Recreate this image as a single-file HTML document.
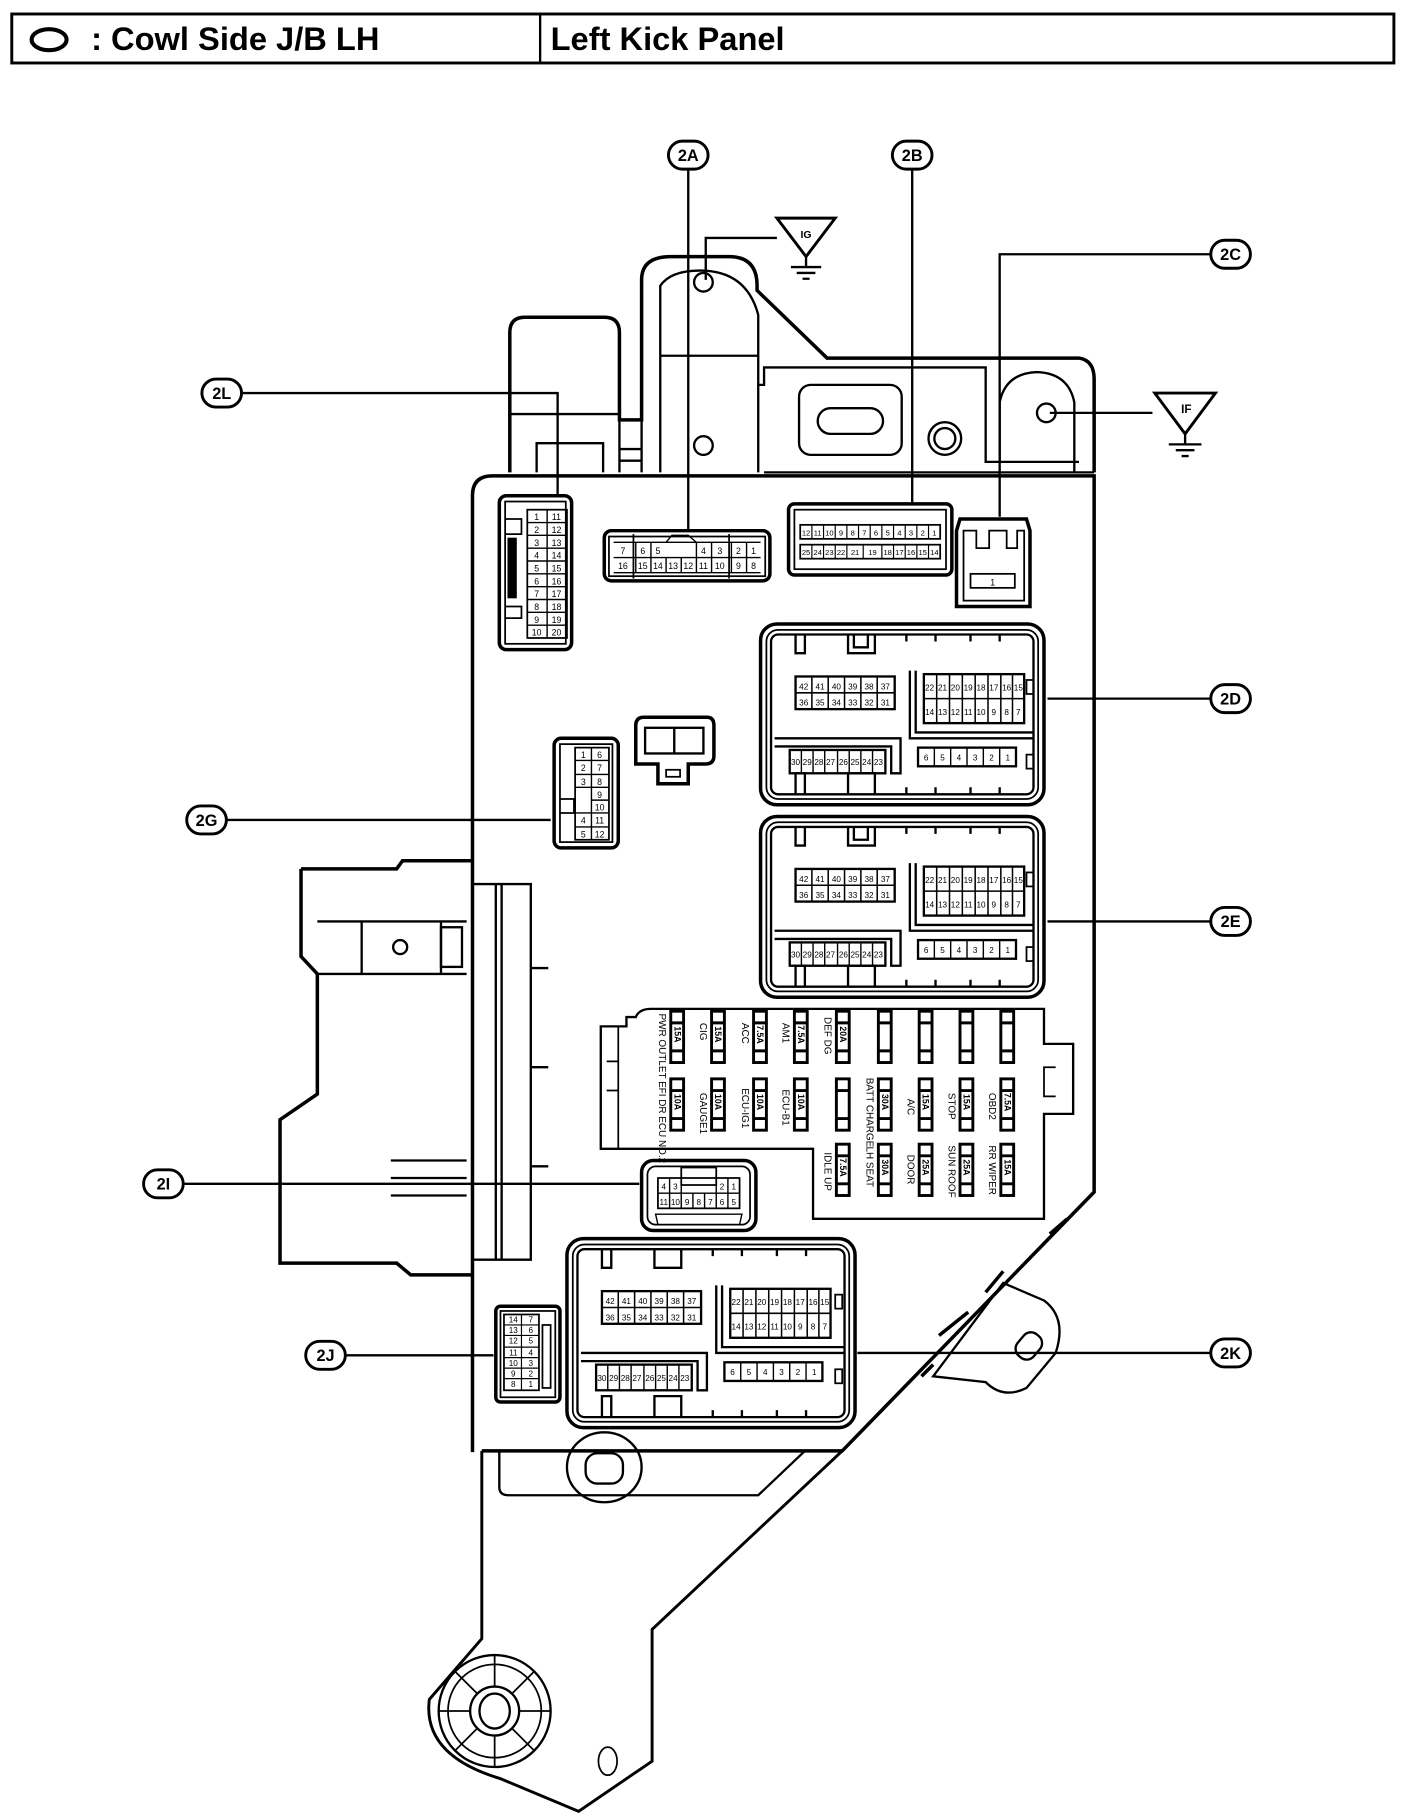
<!DOCTYPE html>
<html><head><meta charset="utf-8"><style>
html,body{margin:0;padding:0;background:#fff;}
svg{display:block;}
text{font-family:"Liberation Sans",Arial,sans-serif;}
.n{font-size:7.5px;text-anchor:middle;fill:#000;}
.c{font-size:14px;font-weight:bold;text-anchor:middle;}
</style></head><body>
<svg width="1408" height="1816" viewBox="0 0 1207 1557" xmlns="http://www.w3.org/2000/svg" fill="none" stroke="#000" stroke-width="2">
<!-- header -->
<rect x="10" y="12" width="1185" height="42" stroke-width="2.5"/>
<line x1="463" y1="12" x2="463" y2="54" stroke-width="2"/>
<ellipse cx="42" cy="34" rx="15" ry="9" stroke-width="3.5"/>
<text x="78" y="43" font-size="28" font-weight="bold" fill="#000" stroke="none">: Cowl Side J/B LH</text>
<text x="472" y="43" font-size="28" font-weight="bold" fill="#000" stroke="none">Left Kick Panel</text>

<!-- upper brackets -->
<path d="M437,405 L437,285 Q437,272 450,272 L518,272 Q531,272 531,285 L531,360 L550,360 L550,240 Q550,220 575,220 L625,220 Q649,220 649,245 L649,249 L709,307 L925,307 Q938,309 938,325 L938,405" stroke-width="3"/>
<path d="M437,355 L531,355 M460,405 L460,380 L517,380 L517,405 M531,360 L531,405 M550,405 L550,360 M531,385 L550,385 M531,395 L550,395" stroke-width="2"/>
<path d="M566,405 L566,245 Q575,232 600,232 Q640,232 650,270 L650,405 M566,305 L650,305" stroke-width="2"/>
<circle cx="603" cy="242" r="8" stroke-width="2"/>
<circle cx="603" cy="382" r="8" stroke-width="2"/>
<path d="M650,330 L655,330 L655,315 L845,315 L845,396 L925,396" stroke-width="2"/>
<path d="M857,396 L857,345 Q862,320 889,319 Q916,320 921,345 L921,405" stroke-width="2"/>
<circle cx="897" cy="354" r="8" stroke-width="2"/>
<rect x="685" y="330" width="88" height="60" rx="10" stroke-width="2"/>
<rect x="701" y="350" width="56" height="22" rx="11" stroke-width="2"/>
<circle cx="810" cy="376" r="14" stroke-width="2"/>
<circle cx="810" cy="376" r="9" stroke-width="2"/>
<line x1="655" y1="405" x2="938" y2="405" stroke-width="2"/>

<!-- main body -->
<path d="M405,1245 L405,425 Q405,408 422,408 L938,408 L938,1022 L722,1244 L413,1244" stroke-width="3"/>
<path d="M428,1244 L428,1275 Q428,1282 436,1282 L650,1282 L690,1244" stroke-width="2"/>
<!-- bottom bracket -->
<path d="M413,1244 L413,1405 L368,1457 Q362,1505 429,1525 L496,1553 L559,1510 L559,1397 L722,1244" stroke-width="2.5"/>
<ellipse cx="518" cy="1258" rx="32" ry="30" stroke-width="2"/>
<rect x="502" y="1246" width="32" height="26" rx="10" stroke-width="2"/>
<ellipse cx="424" cy="1467" rx="48" ry="48" stroke-width="2"/>
<ellipse cx="424" cy="1467" rx="40" ry="40" stroke-width="1.5"/>
<ellipse cx="424" cy="1467" rx="21" ry="21" stroke-width="2"/>
<ellipse cx="424" cy="1467" rx="13" ry="15" stroke-width="2"/>
<path d="M424,1419 L424,1446 M424,1488 L424,1515 M376,1467 L403,1467 M445,1467 L472,1467 M390,1433 L409,1452 M439,1482 L458,1501 M458,1433 L439,1452 M409,1482 L390,1501" stroke-width="1.5"/>
<ellipse cx="521" cy="1510" rx="8" ry="12" stroke-width="1.5"/>

<!-- right side tab -->
<path d="M800,1180 L860,1100 L895,1115 Q915,1130 905,1160 L880,1190 Q860,1200 845,1185 Z" stroke-width="2"/>
<rect x="870" y="1145" width="24" height="18" rx="8" transform="rotate(-50 882 1154)" stroke-width="2"/>
<path d="M805,1145 L830,1125 M845,1108 L860,1090 M900,1058 L915,1045 M790,1180 L800,1170" stroke-width="3"/>

<!-- left module -->
<path d="M258,745 L340,745 L345,738 L405,738 M258,745 L258,820 L272,835 L272,938 L240,960 L240,1083 L340,1083 L352,1093 L405,1093" stroke-width="3"/>
<path d="M405,738 L405,1093 M405,758 L455,758 L455,1080 L405,1080 M425,758 L425,1080 M430,758 L430,1080" stroke-width="2"/>
<path d="M272,790 L400,790 M272,835 L400,835 M310,790 L310,835 M378,790 L378,835" stroke-width="2"/>
<rect x="378" y="795" width="18" height="34" stroke-width="2"/>
<circle cx="343" cy="812" r="6" stroke-width="2"/>
<path d="M455,830 L470,830 M455,915 L470,915 M455,1000 L470,1000 M335,995 L400,995 M335,1010 L400,1010 M335,1025 L400,1025" stroke-width="2"/>

<!-- ground IG -->
<path d="M666,187 L716,187 L691,220 Z" stroke-width="2.5"/>
<text x="691" y="204" class="n" style="font-size:9px;font-weight:bold" fill="#000" stroke="none">IG</text>
<path d="M691,220 L691,228 M678,229 L704,229 M683,234 L699,234 M688,239 L694,239 M666,204 L605,204 L605,240" stroke-width="2"/>
<!-- ground IF -->
<path d="M990,337 L1042,337 L1016,372 Z" stroke-width="2.5"/>
<text x="1017" y="354" class="n" style="font-size:10px;font-weight:bold" fill="#000" stroke="none">IF</text>
<path d="M1016,372 L1016,380 M1002,381 L1030,381 M1008,386 L1024,386 M1013,391 L1019,391 M988,354 L900,354" stroke-width="2"/>

<!-- callouts -->
<g stroke-width="2.5">
<rect x="573" y="121" width="34" height="24" rx="12"/>
<rect x="765" y="121" width="34" height="24" rx="12"/>
<rect x="1038" y="206" width="34" height="24" rx="12"/>
<rect x="173" y="325" width="34" height="24" rx="12"/>
<rect x="1038" y="587" width="34" height="24" rx="12"/>
<rect x="160" y="691" width="34" height="24" rx="12"/>
<rect x="1038" y="778" width="34" height="24" rx="12"/>
<rect x="123" y="1003" width="34" height="24" rx="12"/>
<rect x="262" y="1150" width="34" height="24" rx="12"/>
<rect x="1038" y="1148" width="34" height="24" rx="12"/>
</g>
<g fill="#000" stroke="none" class="c">
<text x="590" y="138" class="c">2A</text>
<text x="782" y="138" class="c">2B</text>
<text x="1055" y="223" class="c">2C</text>
<text x="190" y="342" class="c">2L</text>
<text x="1055" y="604" class="c">2D</text>
<text x="177" y="708" class="c">2G</text>
<text x="1055" y="795" class="c">2E</text>
<text x="140" y="1020" class="c">2I</text>
<text x="279" y="1167" class="c">2J</text>
<text x="1055" y="1165" class="c">2K</text>
</g>
<g stroke-width="2">
<path d="M590,145 L590,455"/>
<path d="M782,145 L782,432"/>
<path d="M1038,218 L857,218 L857,443"/>
<path d="M207,337 L478,337 L478,425"/>
<path d="M1038,599 L898,599"/>
<path d="M194,703 L472,703"/>
<path d="M1038,790 L898,790"/>
<path d="M157,1015 L548,1015"/>
<path d="M296,1162 L423,1162"/>
<path d="M1038,1160 L735,1160"/>
</g>

<!-- 2L -->
<rect x="428" y="425" width="62" height="132" rx="6" stroke-width="3"/>
<rect x="433" y="430" width="52" height="122" stroke-width="1.5"/>
<path d="M433,445 L447,445 L447,458 L433,458 M433,520 L447,520 L447,530 L433,530" stroke-width="1.5"/>
<rect x="436" y="462" width="6" height="50" fill="#000"/>
<rect x="452" y="437" width="34" height="110" stroke-width="1.5"/>
<path d="M469,437 L469,547 M452,448 L486,448 M452,459 L486,459 M452,470 L486,470 M452,481 L486,481 M452,492 L486,492 M452,503 L486,503 M452,514 L486,514 M452,525 L486,525 M452,536 L486,536" stroke-width="1.2"/>
<g fill="#000" stroke="none" class="n">
<text x="460" y="446">1</text><text x="460" y="457">2</text><text x="460" y="468">3</text><text x="460" y="479">4</text><text x="460" y="490">5</text><text x="460" y="501">6</text><text x="460" y="512">7</text><text x="460" y="523">8</text><text x="460" y="534">9</text><text x="460" y="545">10</text>
<text x="477" y="446">11</text><text x="477" y="457">12</text><text x="477" y="468">13</text><text x="477" y="479">14</text><text x="477" y="490">15</text><text x="477" y="501">16</text><text x="477" y="512">17</text><text x="477" y="523">18</text><text x="477" y="534">19</text><text x="477" y="545">20</text>
</g>

<!-- 2A -->
<rect x="518" y="455" width="142" height="43" rx="6" stroke-width="3"/>
<rect x="522" y="460" width="134" height="34" stroke-width="1.5"/>
<path d="M543,458 L543,496 M625,458 L625,496" stroke-width="1.5"/>
<path d="M526,465 L652,465 M526,478 L652,478 M526,491 L652,491" stroke-width="1.2"/>
<path d="M545,465 L545,491 M558,465 L558,491 M571,478 L571,491 M584,478 L584,491 M597,465 L597,491 M610,465 L610,491 M627,465 L627,491 M640,465 L640,491 M571,465 L576,459 L590,459 L597,465" stroke-width="1.2"/>
<g fill="#000" stroke="none" class="n">
<text x="534" y="475">7</text><text x="551" y="475">6</text><text x="564" y="475">5</text><text x="603" y="475">4</text><text x="617" y="475">3</text><text x="633" y="475">2</text><text x="646" y="475">1</text>
<text x="534" y="488">16</text><text x="551" y="488">15</text><text x="564" y="488">14</text><text x="577" y="488">13</text><text x="590" y="488">12</text><text x="603" y="488">11</text><text x="617" y="488">10</text><text x="633" y="488">9</text><text x="646" y="488">8</text>
</g>

<!-- 2B -->
<rect x="676" y="432" width="140" height="61" rx="5" stroke-width="3"/>
<rect x="681" y="437" width="130" height="51" stroke-width="1.5"/>
<rect x="686" y="450" width="120" height="12" stroke-width="1.5"/>
<rect x="686" y="467" width="120" height="12" stroke-width="1.5"/>
<path d="M696,450 L696,462 M706,450 L706,462 M716,450 L716,462 M726,450 L726,462 M736,450 L736,462 M746,450 L746,462 M756,450 L756,462 M766,450 L766,462 M776,450 L776,462 M786,450 L786,462 M796,450 L796,462 M696,467 L696,479 M706,467 L706,479 M716,467 L716,479 M726,467 L726,479 M740,467 L740,479 M756,467 L756,479 M766,467 L766,479 M776,467 L776,479 M786,467 L786,479 M796,467 L796,479" stroke-width="1"/>
<g fill="#000" stroke="none" class="n" style="font-size:6.5px">
<text x="691" y="459">12</text><text x="701" y="459">11</text><text x="711" y="459">10</text><text x="721" y="459">9</text><text x="731" y="459">8</text><text x="741" y="459">7</text><text x="751" y="459">6</text><text x="761" y="459">5</text><text x="771" y="459">4</text><text x="781" y="459">3</text><text x="791" y="459">2</text><text x="801" y="459">1</text>
<text x="691" y="476">25</text><text x="701" y="476">24</text><text x="711" y="476">23</text><text x="721" y="476">22</text><text x="733" y="476">21</text><text x="748" y="476">19</text><text x="761" y="476">18</text><text x="771" y="476">17</text><text x="781" y="476">16</text><text x="791" y="476">15</text><text x="801" y="476">14</text>
</g>

<!-- 2C -->
<path d="M820,520 L820,455 L823,445 L880,445 L883,455 L883,520 Z" stroke-width="3"/>
<path d="M826,515 L826,455 L837,455 L837,470 L848,470 L848,455 L863,455 L863,470 L872,470 L872,455 L878,455 L878,515 Z" stroke-width="1.5"/>
<rect x="832" y="492" width="38" height="12" stroke-width="1.5"/>
<text x="851" y="502" class="n" fill="#000" stroke="none">1</text>

<!-- small 2-pin -->
<path d="M545,655 L545,622 Q545,615 552,615 L606,615 Q612,615 612,622 L612,648 Q612,655 605,655 L590,655 L590,672 L564,672 L564,655 Z" stroke-width="3"/>
<rect x="553" y="624" width="50" height="22" stroke-width="2"/>
<line x1="578" y1="624" x2="578" y2="646" stroke-width="2"/>
<rect x="571" y="660" width="12" height="6" stroke-width="1.5"/>

<!-- 2G -->
<rect x="475" y="633" width="55" height="94" rx="6" stroke-width="3"/>
<rect x="480" y="638" width="45" height="84" stroke-width="1.5"/>
<rect x="493" y="641" width="29" height="79" stroke-width="1.5"/>
<path d="M507,641 L507,720 M493,652 L522,652 M493,664 L522,664 M493,675 L522,675 M507,686 L522,686 M507,697 L522,697 M493,697 L507,697 M493,709 L522,709" stroke-width="1.2"/>
<path d="M480,685 L492,685 L492,697 L480,697" stroke-width="1.5"/>
<g fill="#000" stroke="none" class="n">
<text x="500" y="650">1</text><text x="500" y="661">2</text><text x="500" y="673">3</text><text x="500" y="706">4</text><text x="500" y="718">5</text>
<text x="514" y="650">6</text><text x="514" y="661">7</text><text x="514" y="673">8</text><text x="514" y="684">9</text><text x="514" y="695">10</text><text x="514" y="706">11</text><text x="514" y="718">12</text>
</g>

<!-- big connector 2D -->
<g transform="translate(652,535)">
<rect x="0" y="0" width="243" height="155" rx="14" stroke-width="3"/>
<rect x="5" y="5" width="233" height="145" rx="10" stroke-width="1.5"/>
<rect x="9" y="9" width="225" height="137" rx="6" stroke-width="2"/>
<path d="M30,9 L30,25 L38,25 L38,9 M75,9 L75,25 L98,25 L98,9 M80,9 L80,20 L92,20 L92,9 M125,9 L125,15 M150,9 L150,15 M180,9 L180,15 M205,9 L205,15 M30,146 L30,128 L38,128 L38,146 M75,146 L75,128 L98,128 L98,146 M125,146 L125,140 M150,146 L150,140 M180,146 L180,140 M205,146 L205,140" stroke-width="2"/>
<rect x="30" y="45" width="85" height="28" stroke-width="2"/>
<path d="M44,45 L44,73 M58,45 L58,73 M72,45 L72,73 M86,45 L86,73 M100,45 L100,73 M30,59 L115,59" stroke-width="1.3"/>
<path d="M128,40 L128,98 L234,98 M133,40 L133,93 L234,93" stroke-width="2"/>
<rect x="140" y="43" width="86" height="42" stroke-width="2"/>
<path d="M151,43 L151,85 M162,43 L162,85 M173,43 L173,85 M184,43 L184,85 M195,43 L195,85 M206,43 L206,85 M216,43 L216,85 M140,64 L226,64" stroke-width="1.3"/>
<rect x="228" y="48" width="6" height="12" stroke-width="1.5"/>
<rect x="228" y="112" width="6" height="12" stroke-width="1.5"/>
<path d="M12,98 L120,98 L120,128 L112,128 L112,105 L12,105" stroke-width="2"/>
<rect x="25" y="108" width="82" height="20" stroke-width="2"/>
<path d="M35,108 L35,128 M45,108 L45,128 M55,108 L55,128 M66,108 L66,128 M76,108 L76,128 M86,108 L86,128 M96,108 L96,128" stroke-width="1.2"/>
<rect x="135" y="106" width="84" height="16" stroke-width="2"/>
<path d="M149,106 L149,122 M163,106 L163,122 M177,106 L177,122 M191,106 L191,122 M205,106 L205,122" stroke-width="1.2"/>
<g fill="#000" stroke="none" class="n" style="font-size:7px">
<text x="37" y="56">42</text><text x="51" y="56">41</text><text x="65" y="56">40</text><text x="79" y="56">39</text><text x="93" y="56">38</text><text x="107" y="56">37</text>
<text x="37" y="70">36</text><text x="51" y="70">35</text><text x="65" y="70">34</text><text x="79" y="70">33</text><text x="93" y="70">32</text><text x="107" y="70">31</text>
<text x="145" y="57">22</text><text x="156" y="57">21</text><text x="167" y="57">20</text><text x="178" y="57">19</text><text x="189" y="57">18</text><text x="200" y="57">17</text><text x="211" y="57">16</text><text x="221" y="57">15</text>
<text x="145" y="78">14</text><text x="156" y="78">13</text><text x="167" y="78">12</text><text x="178" y="78">11</text><text x="189" y="78">10</text><text x="200" y="78">9</text><text x="211" y="78">8</text><text x="221" y="78">7</text>
<text x="30" y="121">30</text><text x="40" y="121">29</text><text x="50" y="121">28</text><text x="60" y="121">27</text><text x="71" y="121">26</text><text x="81" y="121">25</text><text x="91" y="121">24</text><text x="101" y="121">23</text>
<text x="142" y="117">6</text><text x="156" y="117">5</text><text x="170" y="117">4</text><text x="184" y="117">3</text><text x="198" y="117">2</text><text x="212" y="117">1</text>
</g>
</g>

<!-- 2E -->
<g transform="translate(652,700)">
<rect x="0" y="0" width="243" height="155" rx="14" stroke-width="3"/>
<rect x="5" y="5" width="233" height="145" rx="10" stroke-width="1.5"/>
<rect x="9" y="9" width="225" height="137" rx="6" stroke-width="2"/>
<path d="M30,9 L30,25 L38,25 L38,9 M75,9 L75,25 L98,25 L98,9 M80,9 L80,20 L92,20 L92,9 M125,9 L125,15 M150,9 L150,15 M180,9 L180,15 M205,9 L205,15 M30,146 L30,128 L38,128 L38,146 M75,146 L75,128 L98,128 L98,146 M125,146 L125,140 M150,146 L150,140 M180,146 L180,140 M205,146 L205,140" stroke-width="2"/>
<rect x="30" y="45" width="85" height="28" stroke-width="2"/>
<path d="M44,45 L44,73 M58,45 L58,73 M72,45 L72,73 M86,45 L86,73 M100,45 L100,73 M30,59 L115,59" stroke-width="1.3"/>
<path d="M128,40 L128,98 L234,98 M133,40 L133,93 L234,93" stroke-width="2"/>
<rect x="140" y="43" width="86" height="42" stroke-width="2"/>
<path d="M151,43 L151,85 M162,43 L162,85 M173,43 L173,85 M184,43 L184,85 M195,43 L195,85 M206,43 L206,85 M216,43 L216,85 M140,64 L226,64" stroke-width="1.3"/>
<rect x="228" y="48" width="6" height="12" stroke-width="1.5"/>
<rect x="228" y="112" width="6" height="12" stroke-width="1.5"/>
<path d="M12,98 L120,98 L120,128 L112,128 L112,105 L12,105" stroke-width="2"/>
<rect x="25" y="108" width="82" height="20" stroke-width="2"/>
<path d="M35,108 L35,128 M45,108 L45,128 M55,108 L55,128 M66,108 L66,128 M76,108 L76,128 M86,108 L86,128 M96,108 L96,128" stroke-width="1.2"/>
<rect x="135" y="106" width="84" height="16" stroke-width="2"/>
<path d="M149,106 L149,122 M163,106 L163,122 M177,106 L177,122 M191,106 L191,122 M205,106 L205,122" stroke-width="1.2"/>
<g fill="#000" stroke="none" class="n" style="font-size:7px">
<text x="37" y="56">42</text><text x="51" y="56">41</text><text x="65" y="56">40</text><text x="79" y="56">39</text><text x="93" y="56">38</text><text x="107" y="56">37</text>
<text x="37" y="70">36</text><text x="51" y="70">35</text><text x="65" y="70">34</text><text x="79" y="70">33</text><text x="93" y="70">32</text><text x="107" y="70">31</text>
<text x="145" y="57">22</text><text x="156" y="57">21</text><text x="167" y="57">20</text><text x="178" y="57">19</text><text x="189" y="57">18</text><text x="200" y="57">17</text><text x="211" y="57">16</text><text x="221" y="57">15</text>
<text x="145" y="78">14</text><text x="156" y="78">13</text><text x="167" y="78">12</text><text x="178" y="78">11</text><text x="189" y="78">10</text><text x="200" y="78">9</text><text x="211" y="78">8</text><text x="221" y="78">7</text>
<text x="30" y="121">30</text><text x="40" y="121">29</text><text x="50" y="121">28</text><text x="60" y="121">27</text><text x="71" y="121">26</text><text x="81" y="121">25</text><text x="91" y="121">24</text><text x="101" y="121">23</text>
<text x="142" y="117">6</text><text x="156" y="117">5</text><text x="170" y="117">4</text><text x="184" y="117">3</text><text x="198" y="117">2</text><text x="212" y="117">1</text>
</g>
</g>

<!-- 2K -->
<g transform="translate(486,1062)">
<rect x="0" y="0" width="247" height="162" rx="14" stroke-width="3"/>
<rect x="5" y="5" width="237" height="152" rx="10" stroke-width="1.5"/>
<rect x="9" y="9" width="229" height="144" rx="6" stroke-width="2"/>
<path d="M30,9 L30,25 L38,25 L38,9 M75,9 L75,25 L98,25 L98,9 M125,9 L125,15 M150,9 L150,15 M180,9 L180,15 M205,9 L205,15 M30,153 L30,135 L38,135 L38,153 M75,153 L75,135 L98,135 L98,153 M125,153 L125,147 M150,153 L150,147 M180,153 L180,147 M205,153 L205,147" stroke-width="2"/>
<rect x="30" y="45" width="85" height="28" stroke-width="2"/>
<path d="M44,45 L44,73 M58,45 L58,73 M72,45 L72,73 M86,45 L86,73 M100,45 L100,73 M30,59 L115,59" stroke-width="1.3"/>
<path d="M128,40 L128,98 L238,98 M133,40 L133,93 L238,93" stroke-width="2"/>
<rect x="140" y="43" width="86" height="42" stroke-width="2"/>
<path d="M151,43 L151,85 M162,43 L162,85 M173,43 L173,85 M184,43 L184,85 M195,43 L195,85 M206,43 L206,85 M216,43 L216,85 M140,64 L226,64" stroke-width="1.3"/>
<rect x="230" y="48" width="6" height="12" stroke-width="1.5"/>
<rect x="230" y="112" width="6" height="12" stroke-width="1.5"/>
<path d="M12,98 L120,98 L120,130 L112,130 L112,105 L12,105" stroke-width="2"/>
<rect x="25" y="108" width="82" height="22" stroke-width="2"/>
<path d="M35,108 L35,130 M45,108 L45,130 M55,108 L55,130 M66,108 L66,130 M76,108 L76,130 M86,108 L86,130 M96,108 L96,130" stroke-width="1.2"/>
<rect x="135" y="106" width="84" height="16" stroke-width="2"/>
<path d="M149,106 L149,122 M163,106 L163,122 M177,106 L177,122 M191,106 L191,122 M205,106 L205,122" stroke-width="1.2"/>
<g fill="#000" stroke="none" class="n" style="font-size:7px">
<text x="37" y="56">42</text><text x="51" y="56">41</text><text x="65" y="56">40</text><text x="79" y="56">39</text><text x="93" y="56">38</text><text x="107" y="56">37</text>
<text x="37" y="70">36</text><text x="51" y="70">35</text><text x="65" y="70">34</text><text x="79" y="70">33</text><text x="93" y="70">32</text><text x="107" y="70">31</text>
<text x="145" y="57">22</text><text x="156" y="57">21</text><text x="167" y="57">20</text><text x="178" y="57">19</text><text x="189" y="57">18</text><text x="200" y="57">17</text><text x="211" y="57">16</text><text x="221" y="57">15</text>
<text x="145" y="78">14</text><text x="156" y="78">13</text><text x="167" y="78">12</text><text x="178" y="78">11</text><text x="189" y="78">10</text><text x="200" y="78">9</text><text x="211" y="78">8</text><text x="221" y="78">7</text>
<text x="30" y="122">30</text><text x="40" y="122">29</text><text x="50" y="122">28</text><text x="60" y="122">27</text><text x="71" y="122">26</text><text x="81" y="122">25</text><text x="91" y="122">24</text><text x="101" y="122">23</text>
<text x="142" y="117">6</text><text x="156" y="117">5</text><text x="170" y="117">4</text><text x="184" y="117">3</text><text x="198" y="117">2</text><text x="212" y="117">1</text>
</g>
</g>

<!-- 2J -->
<rect x="425" y="1120" width="55" height="82" rx="4" stroke-width="3"/>
<rect x="429" y="1124" width="47" height="74" stroke-width="1.5"/>
<rect x="432" y="1127" width="30" height="65" stroke-width="1.5"/>
<path d="M447,1127 L447,1192 M432,1136 L462,1136 M432,1145 L462,1145 M432,1155 L462,1155 M432,1164 L462,1164 M432,1173 L462,1173 M432,1182 L462,1182" stroke-width="1"/>
<rect x="465" y="1136" width="7" height="54" stroke-width="1.5"/>
<g fill="#000" stroke="none" class="n" style="font-size:7px">
<text x="440" y="1134">14</text><text x="440" y="1143">13</text><text x="440" y="1152">12</text><text x="440" y="1162">11</text><text x="440" y="1171">10</text><text x="440" y="1180">9</text><text x="440" y="1189">8</text>
<text x="455" y="1134">7</text><text x="455" y="1143">6</text><text x="455" y="1152">5</text><text x="455" y="1162">4</text><text x="455" y="1171">3</text><text x="455" y="1180">2</text><text x="455" y="1189">1</text>
</g>

<!-- 2I -->
<rect x="550" y="995" width="98" height="60" rx="10" stroke-width="3"/>
<rect x="555" y="1000" width="88" height="50" rx="7" stroke-width="1.5"/>
<rect x="584" y="1001" width="30" height="15" stroke-width="1.5"/>
<rect x="564" y="1010" width="70" height="26" stroke-width="1.5"/>
<path d="M564,1023 L634,1023 M574,1010 L574,1036 M584,1010 L584,1036 M594,1023 L594,1036 M604,1023 L604,1036 M614,1010 L614,1036 M624,1010 L624,1036 M562,1041 L636,1041 L634,1050 L564,1050 Z" stroke-width="1.2"/>
<g fill="#000" stroke="none" class="n" style="font-size:7px">
<text x="569" y="1020">4</text><text x="579" y="1020">3</text><text x="619" y="1020">2</text><text x="629" y="1020">1</text>
<text x="569" y="1033">11</text><text x="579" y="1033">10</text><text x="589" y="1033">9</text><text x="599" y="1033">8</text><text x="609" y="1033">7</text><text x="619" y="1033">6</text><text x="629" y="1033">5</text>
</g>

<!-- fuse block -->
<path d="M515,985 L515,880 L537,880 L537,872 L545,872 Q548,865 558,865 L895,865 L895,895 L920,895 L920,955 L895,955 L895,1045 L697,1045 L697,985 Z" stroke-width="2"/>
<path d="M530,880 L530,985 M520,910 L530,910 L530,935 L520,935 M905,915 L895,915 L895,940 L905,940" stroke-width="1.5"/>
<g stroke-width="2.5">
<rect x="575" y="867" width="11" height="44"/><rect x="610" y="867" width="11" height="44"/><rect x="646" y="867" width="11" height="44"/><rect x="681" y="867" width="11" height="44"/><rect x="717" y="867" width="11" height="44"/><rect x="753" y="867" width="11" height="44"/><rect x="788" y="867" width="11" height="44"/><rect x="823" y="867" width="11" height="44"/><rect x="858" y="867" width="11" height="44"/>
<rect x="575" y="925" width="11" height="44"/><rect x="610" y="925" width="11" height="44"/><rect x="646" y="925" width="11" height="44"/><rect x="681" y="925" width="11" height="44"/><rect x="717" y="925" width="11" height="44"/><rect x="753" y="925" width="11" height="44"/><rect x="788" y="925" width="11" height="44"/><rect x="823" y="925" width="11" height="44"/><rect x="858" y="925" width="11" height="44"/>
<rect x="717" y="981" width="11" height="44"/><rect x="753" y="981" width="11" height="44"/><rect x="788" y="981" width="11" height="44"/><rect x="823" y="981" width="11" height="44"/><rect x="858" y="981" width="11" height="44"/>
</g>
<path d="M575,877 L586,877 M575,901 L586,901 M610,877 L621,877 M610,901 L621,901 M646,877 L657,877 M646,901 L657,901 M681,877 L692,877 M681,901 L692,901 M717,877 L728,877 M717,901 L728,901 M753,877 L764,877 M753,901 L764,901 M788,877 L799,877 M788,901 L799,901 M823,877 L834,877 M823,901 L834,901 M858,877 L869,877 M858,901 L869,901 M575,935 L586,935 M575,959 L586,959 M610,935 L621,935 M610,959 L621,959 M646,935 L657,935 M646,959 L657,959 M681,935 L692,935 M681,959 L692,959 M717,935 L728,935 M717,959 L728,959 M753,935 L764,935 M753,959 L764,959 M788,935 L799,935 M788,959 L799,959 M823,935 L834,935 M823,959 L834,959 M858,935 L869,935 M858,959 L869,959 M717,991 L728,991 M717,1015 L728,1015 M753,991 L764,991 M753,1015 L764,1015 M788,991 L799,991 M788,1015 L799,1015 M823,991 L834,991 M823,1015 L834,1015 M858,991 L869,991 M858,1015 L869,1015" stroke-width="2.5"/>
<g fill="#000" stroke="none" font-size="7.5" font-weight="bold">
<text transform="translate(578,880) rotate(90)">15A</text><text transform="translate(613,880) rotate(90)">15A</text><text transform="translate(649,879) rotate(90)">7.5A</text><text transform="translate(684,879) rotate(90)">7.5A</text><text transform="translate(720,880) rotate(90)">20A</text>
<text transform="translate(578,938) rotate(90)">10A</text><text transform="translate(613,938) rotate(90)">10A</text><text transform="translate(649,938) rotate(90)">10A</text><text transform="translate(684,938) rotate(90)">10A</text>
<text transform="translate(756,938) rotate(90)">30A</text><text transform="translate(791,938) rotate(90)">15A</text><text transform="translate(826,938) rotate(90)">15A</text><text transform="translate(861,937) rotate(90)">7.5A</text>
<text transform="translate(720,993) rotate(90)">7.5A</text><text transform="translate(756,994) rotate(90)">30A</text><text transform="translate(791,994) rotate(90)">25A</text><text transform="translate(826,994) rotate(90)">25A</text><text transform="translate(861,994) rotate(90)">15A</text>
</g>
<g fill="#000" stroke="none" font-size="8.5">
<text transform="translate(565,869) rotate(90)">PWR OUTLET EFI DR ECU NO.2</text>
<text transform="translate(600,877) rotate(90)">CIG</text>
<text transform="translate(636,877) rotate(90)">ACC</text>
<text transform="translate(671,877) rotate(90)">AM1</text>
<text transform="translate(707,872) rotate(90)">DEF DG</text>
<text transform="translate(600,937) rotate(90)">GAUGE1</text>
<text transform="translate(636,933) rotate(90)">ECU-IG1</text>
<text transform="translate(671,934) rotate(90)">ECU-B1</text>
<text transform="translate(743,924) rotate(90)">BATT CHARGE</text>
<text transform="translate(778,942) rotate(90)">A/C</text>
<text transform="translate(813,937) rotate(90)">STOP</text>
<text transform="translate(848,937) rotate(90)">OBD2</text>
<text transform="translate(707,988) rotate(90)">IDLE UP</text>
<text transform="translate(743,983) rotate(90)">LH SEAT</text>
<text transform="translate(778,990) rotate(90)">DOOR</text>
<text transform="translate(813,982) rotate(90)">SUN ROOF</text>
<text transform="translate(848,982) rotate(90)">RR WIPER</text>
</g>
</svg>
</body></html>
